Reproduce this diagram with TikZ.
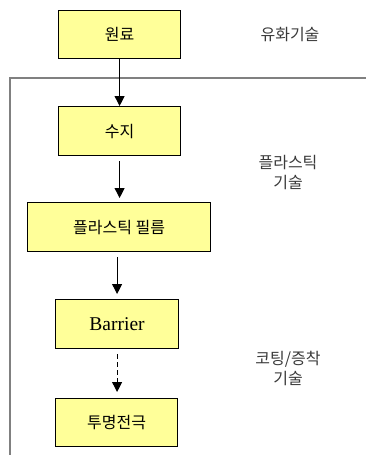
\documentclass[tikz,border=0pt]{standalone}
\usepackage{fontspec}
\newfontfamily\kr{Noto Sans CJK KR}
\newfontfamily\lat{Liberation Serif}
\usetikzlibrary{arrows.meta}
\definecolor{boxfill}{HTML}{FFFF99}
\definecolor{framegray}{HTML}{808080}
\definecolor{labelgray}{HTML}{3A3A3A}
\tikzset{
  procbox/.style={draw=black, line width=1.2pt, fill=boxfill, anchor=north west, inner sep=0pt, font=\kr\fontsize{16}{18}\selectfont},
  flow/.style={line width=1.1pt, -{Triangle[width=10pt,length=10pt]}},
  sidelabel/.style={font=\kr\fontsize{16}{20}\selectfont, text=labelgray, align=center}
}
\begin{document}
\begin{tikzpicture}[x=1pt,y=-1pt]
\useasboundingbox (0,0) rectangle (366,455);
% gray frame
\draw[framegray, line width=2pt] (10,455) -- (10,78) -- (366,78);
% boxes
\node[procbox, minimum width=122pt, minimum height=48pt] (raw) at (58,10) {원료};
\node[procbox, minimum width=122pt, minimum height=49pt] (resin) at (58,106) {수지};
\node[procbox, minimum width=183pt, minimum height=49pt] (film) at (27,202) {플라스틱 필름};
\node[procbox, minimum width=123pt, minimum height=49pt, font=\lat\fontsize{19.5}{21}\selectfont] (barrier) at (55,299) {Barrier};
\node[procbox, minimum width=122pt, minimum height=48pt] (elec) at (55,398) {투명전극};
% side labels
\node[sidelabel] (l1) at (290,35) {유화기술};
\node[sidelabel] (l2) at (288,173) {플라스틱\\기술};
\node[sidelabel] (l3) at (288,368) {코팅/증착\\기술};
% connectors
\draw[flow] (raw.south) -- (resin.north);
\draw[flow] ([yshift=-5pt]resin.south) -- ([yshift=4pt]resin.south |- film.north);
\draw[flow] ([yshift=-5pt]barrier.north |- film.south) -- ([yshift=5pt]barrier.north);
\draw[flow, dashed, dash pattern=on 5pt off 3pt] ([yshift=-5pt]barrier.south) -- ([yshift=6pt]barrier.south |- elec.north);
\end{tikzpicture}
\end{document}
